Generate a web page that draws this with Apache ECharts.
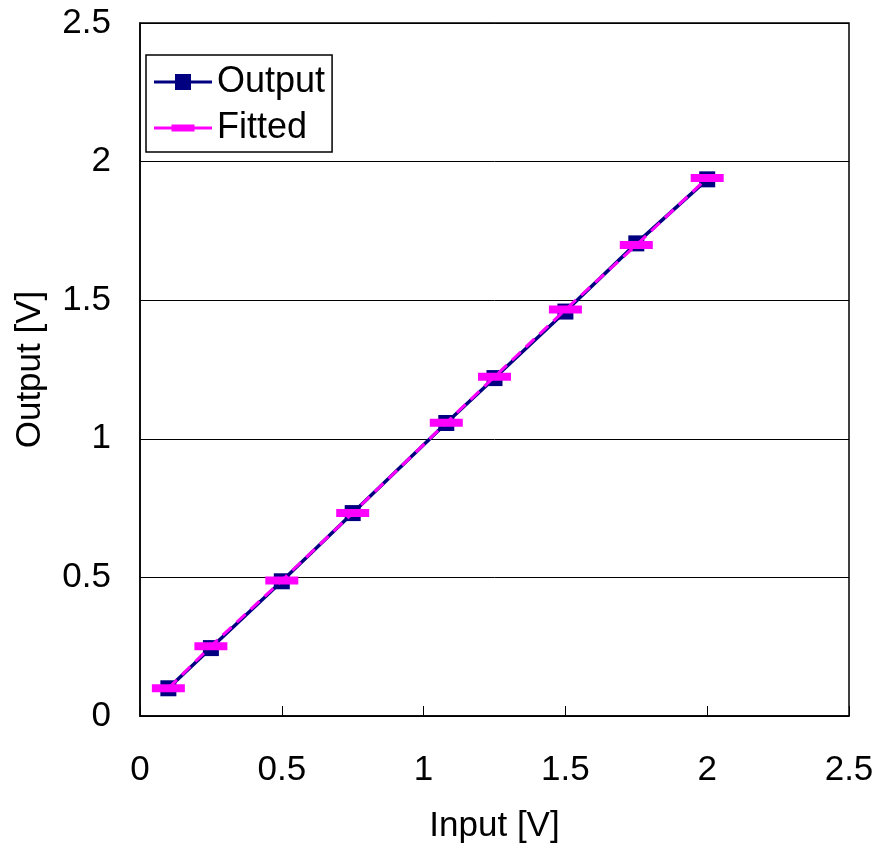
<!DOCTYPE html>
<html>
<head>
<meta charset="utf-8">
<script src="https://cdn.jsdelivr.net/npm/echarts@6/dist/echarts.min.js"></script>
<style>html,body{margin:0;padding:0;background:#fff;}#c{width:878px;height:849px;}</style>
</head>
<body>
<div id="c"></div>
<script>
var inputV = [0.1, 0.25, 0.5, 0.75, 1.08, 1.25, 1.5, 1.75, 2.0];
var outputV = [0.10, 0.245, 0.486, 0.732, 1.057, 1.219, 1.459, 1.705, 1.936];
var fittedV = [0.10, 0.252, 0.489, 0.732, 1.058, 1.224, 1.466, 1.699, 1.941];
var tickLabels = ['0', '0.5', '1', '1.5', '2', '2.5'];

function pairs(xs, ys) { return xs.map(function (x, i) { return [x, ys[i]]; }); }
var FONT = 'Liberation Sans, Arial, sans-serif';
var chart = echarts.init(document.getElementById('c'), null, { renderer: 'canvas' });
chart.setOption({
  animation: false,
  backgroundColor: '#fff',
  grid: { left: 140, right: 29, top: 23, bottom: 132, show: true, borderColor: '#000', borderWidth: 1.5, containLabel: false },
  legend: {
    left: 146, top: 55, orient: 'vertical',
    padding: [9, 7, 6, 8],
    itemGap: 10,
    itemWidth: 58, itemHeight: 16,
    borderColor: '#000', borderWidth: 1.5,
    textStyle: { fontFamily: FONT, fontSize: 36, color: '#000' },
    data: [
      { name: 'Output', icon: 'path://M0,0Z M0,16Z M0,6.5H58V9.5H0Z M21,0H37V16H21Z', itemStyle: { color: '#000080' } },
      { name: 'Fitted', icon: 'path://M0,0Z M0,16Z M0,6.5H58V9.5H0Z M17.5,4.5H40.5V11.5H17.5Z', itemStyle: { color: '#ff00ff' } }
    ]
  },
  xAxis: {
    type: 'value', min: 0, max: 2.5, interval: 0.5,
    name: 'Input [V]', nameLocation: 'middle', nameGap: 93,
    nameTextStyle: { fontFamily: FONT, fontSize: 35, color: '#000' },
    axisLine: { lineStyle: { color: '#000', width: 1.5 } },
    axisTick: { inside: true, length: 10, lineStyle: { color: '#000' } },
    axisLabel: { fontFamily: FONT, fontSize: 35, color: '#000', margin: 37,
      formatter: function (v) { return tickLabels[Math.round(v / 0.5)]; } },
    splitLine: { show: false }
  },
  yAxis: {
    type: 'value', min: 0, max: 2.5, interval: 0.5,
    name: 'Output [V]', nameLocation: 'middle', nameGap: 92,
    nameTextStyle: { fontFamily: FONT, fontSize: 35, color: '#000' },
    axisLine: { show: true, lineStyle: { color: '#000', width: 1.5 } },
    axisTick: { show: false },
    axisLabel: { fontFamily: FONT, fontSize: 35, color: '#000', margin: 29,
      formatter: function (v) { return tickLabels[Math.round(v / 0.5)]; } },
    splitLine: { show: true, lineStyle: { color: '#000', width: 1 } }
  },
  series: [
    {
      name: 'Output', type: 'line', data: pairs(inputV, outputV),
      symbol: 'rect', symbolSize: [16, 16],
      lineStyle: { color: '#000080', width: 3.5 },
      itemStyle: { color: '#000080', borderWidth: 0 },
      z: 2
    },
    {
      name: 'Fitted', type: 'line', data: pairs(inputV, fittedV),
      symbol: 'rect', symbolSize: [33, 8],
      lineStyle: { color: '#ff00ff', width: 3, type: [12, 7] },
      itemStyle: { color: '#ff00ff', borderWidth: 0 },
      z: 3
    }
  ]
});
</script>
</body>
</html>
